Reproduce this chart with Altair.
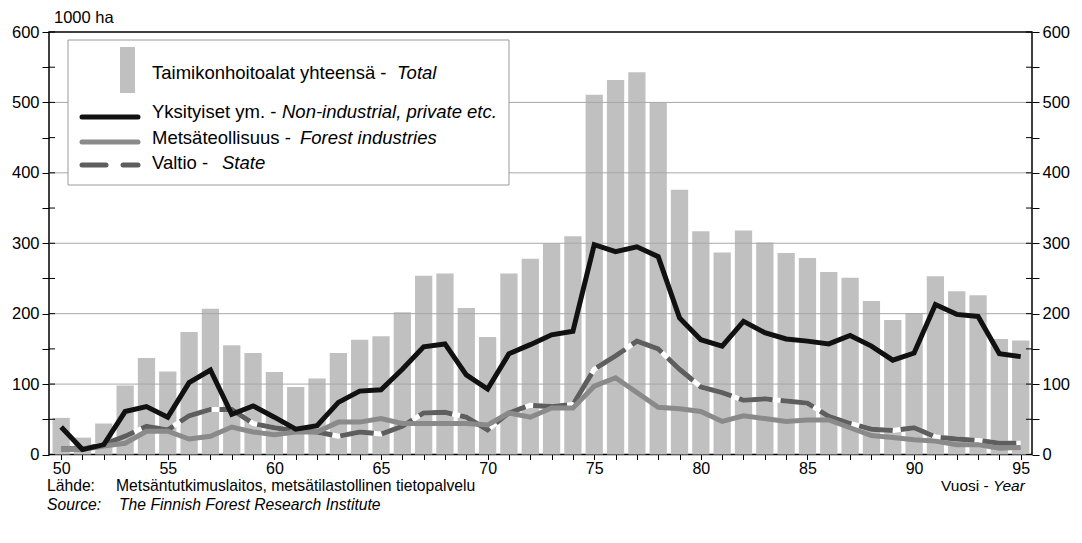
import altair as alt
import pandas as pd

# ---------------- data ----------------
years = list(range(50, 96))
total = [52, 24, 44, 98, 137, 118, 174, 207, 155, 144,
         117, 96, 108, 144, 163, 168, 202, 254, 257, 208,
         167, 257, 278, 300, 310, 511, 532, 543, 500, 376,
         317, 287, 318, 301, 286, 279, 259, 251, 218, 191,
         201, 253, 232, 226, 164, 162]
private = [39, 7, 14, 61, 68, 53, 102, 120, 57, 69,
           53, 36, 41, 74, 90, 92, 121, 153, 157, 113,
           93, 143, 156, 170, 175, 298, 288, 295, 281, 194,
           163, 154, 189, 173, 164, 161, 157, 169, 154, 134,
           144, 213, 199, 196, 143, 139]
forest = [7, 7, 12, 16, 33, 33, 22, 26, 39, 32,
          28, 32, 32, 46, 46, 51, 44, 44, 44, 44,
          42, 59, 53, 66, 66, 97, 109, 88, 67, 65,
          61, 47, 55, 51, 47, 49, 49, 38, 27, 24,
          21, 19, 14, 14, 9, 10]
state = [8, 8, 14, 26, 40, 35, 55, 64, 64, 44,
         38, 34, 32, 26, 32, 29, 40, 59, 60, 53,
         35, 59, 70, 68, 71, 121, 140, 161, 150, 121,
         96, 88, 77, 79, 76, 73, 54, 44, 36, 34,
         38, 25, 22, 20, 16, 16]
grid_vals = [100, 200, 300, 400, 500]
y_tick_vals = list(range(0, 601, 50))

legend_labels = ["Taimikonhoitoalat yhteensä - ", "Yksityiset ym. - ",
                 "Metsäteollisuus - ", "Valtio - "]
legend_italic = ["Total", "Non-industrial, private etc.",
                 "Forest industries", "State"]

FONT = "Liberation Sans"
W, H = 983, 422.5
X_DOMAIN = [49.43, 95.53]
Y_DOMAIN = [0, 600]

df = pd.DataFrame({"year": years, "total": total, "private": private,
                   "forest": forest, "state": state})
df["x0"] = df["year"] - 0.405
df["x1"] = df["year"] + 0.405
gdf = pd.DataFrame({"v": grid_vals})
tdf = pd.DataFrame({"t": y_tick_vals})
one = pd.DataFrame({"k": [0]})

xs = alt.Scale(domain=X_DOMAIN, nice=False, zero=False)
ys = alt.Scale(domain=Y_DOMAIN, nice=False)

x_axis = alt.Axis(values=years,
                  labelExpr="datum.value % 5 == 0 ? datum.label : ''",
                  title=None, grid=False, tickSize=5, labelFontSize=16,
                  labelPadding=1, domain=False, tickColor="black",
                  labelColor="black", labelFont=FONT, labelFlush=False,
                  labelOverlap=False, tickWidth=1)
y_left = alt.Axis(values=y_tick_vals,
                  labelExpr="datum.value % 100 == 0 ? datum.label : ''",
                  title=None, grid=False, tickSize=7, labelFontSize=16.5,
                  labelPadding=3, domain=False, tickColor="black",
                  labelColor="black", labelFont=FONT, labelOverlap=False,
                  labelFlush=False)
y_right = alt.Axis(values=y_tick_vals, orient="right",
                   labelExpr="datum.value % 100 == 0 ? datum.label : ''",
                   title=None, grid=False, tickSize=7, labelFontSize=16.5,
                   labelPadding=3, domain=False, tickColor="black",
                   labelColor="black", labelFont=FONT, labelOverlap=False,
                   labelFlush=False)

base = alt.Chart(df)

bars = base.mark_rect(color="#c0c0c0").encode(
    x=alt.X("x0:Q", scale=xs, axis=x_axis),
    x2="x1:Q",
    y=alt.Y("total:Q", scale=ys, axis=y_left),
    y2=alt.datum(0),
)

grid = alt.Chart(gdf).mark_rule(color="#a8a8a8", strokeWidth=1).encode(
    y=alt.Y("v:Q", scale=ys, axis=y_left),
)

# inner halves of the y-axis ticks (they cross the axis lines)
inner_left = alt.Chart(tdf).mark_rule(color="black", strokeWidth=1).encode(
    y=alt.Y("t:Q", scale=ys, axis=y_left),
    x=alt.value(0), x2=alt.value(6),
)
inner_right = alt.Chart(tdf).mark_rule(color="black", strokeWidth=1).encode(
    y=alt.Y("t:Q", scale=ys, axis=y_left),
    x=alt.value(W - 6), x2=alt.value(W),
)


def line(field, color, **kw):
    return base.mark_line(color=color, strokeWidth=5, **kw).encode(
        x=alt.X("year:Q", scale=xs, axis=x_axis),
        y=alt.Y(f"{field}:Q", scale=ys, axis=y_left),
    )


state_under = line("state", "white")
state_line = line("state", "#5e5e5e", strokeDash=[34, 8])
forest_line = line("forest", "#8a8a8a")
private_line = line("private", "#111111")


# ---------------- legend (drawn by hand) ----------------
def txt(s, x, y, size=18.5, italic=False, align="left"):
    return alt.Chart(one).mark_text(
        text=s, font=FONT, fontSize=size, align=align, baseline="middle",
        color="black", fontStyle="italic" if italic else "normal"
    ).encode(x=alt.value(x), y=alt.value(y))


def swatch(x1, x2, y, color, w=5):
    return alt.Chart(one).mark_rule(color=color, strokeWidth=w,
                                    strokeCap="round").encode(
        x=alt.value(x1), x2=alt.value(x2), y=alt.value(y))


leg_box = alt.Chart(one).mark_rect(fill="white", stroke="#9a9a9a",
                                   strokeWidth=1).encode(
    x=alt.value(19), x2=alt.value(460), y=alt.value(8), y2=alt.value(153))
leg_bar = alt.Chart(one).mark_rect(fill="#c0c0c0").encode(
    x=alt.value(71), x2=alt.value(86), y=alt.value(15), y2=alt.value(61))

TX = 103
legend = [
    leg_box, leg_bar,
    swatch(33, 89, 85, "#111111"),
    swatch(33, 89, 110, "#8a8a8a"),
    swatch(33, 57, 133, "#5e5e5e"),
    swatch(74, 89, 133, "#5e5e5e"),
    txt(legend_labels[0], TX, 41), txt(legend_italic[0], TX + 245, 41, italic=True),
    txt(legend_labels[1], TX, 80), txt(legend_italic[1], TX + 130, 80, italic=True),
    txt(legend_labels[2], TX, 106), txt(legend_italic[2], TX + 148, 106, italic=True),
    txt(legend_labels[3], TX, 131), txt(legend_italic[3], TX + 70, 131, italic=True),
]

# ---------------- other texts ----------------
texts = [
    txt("1000 ha", 5, -14, size=16.5),
    txt("Vuosi - ", 892, 454, size=15.5),
    txt("Year", 944, 454, size=15.5, italic=True),
    txt("Lähde:", -2, 454, size=15.7),
    txt("Metsäntutkimuslaitos, metsätilastollinen tietopalvelu", 67, 454, size=15.7),
    txt("Source:", -2, 473, size=15.7, italic=True),
    txt("The Finnish Forest Research Institute", 70, 473, size=15.7, italic=True),
]

main = alt.layer(bars, grid, inner_left, inner_right, *legend, state_under,
                 state_line, forest_line, private_line, *texts)

right_axis = alt.Chart(gdf).mark_rule(opacity=0).encode(
    y=alt.Y("v:Q", scale=ys, axis=y_right),
)

chart = alt.layer(main, right_axis).resolve_scale(y="independent").properties(
    width=W, height=H,
    autosize=alt.AutoSizeParams(type="none"),
    padding={"left": 41, "top": 24, "right": 40, "bottom": 85},
).configure_view(stroke="black", strokeWidth=1.5)

chart.save("out.html", embed_options={"renderer": "svg", "actions": False})
